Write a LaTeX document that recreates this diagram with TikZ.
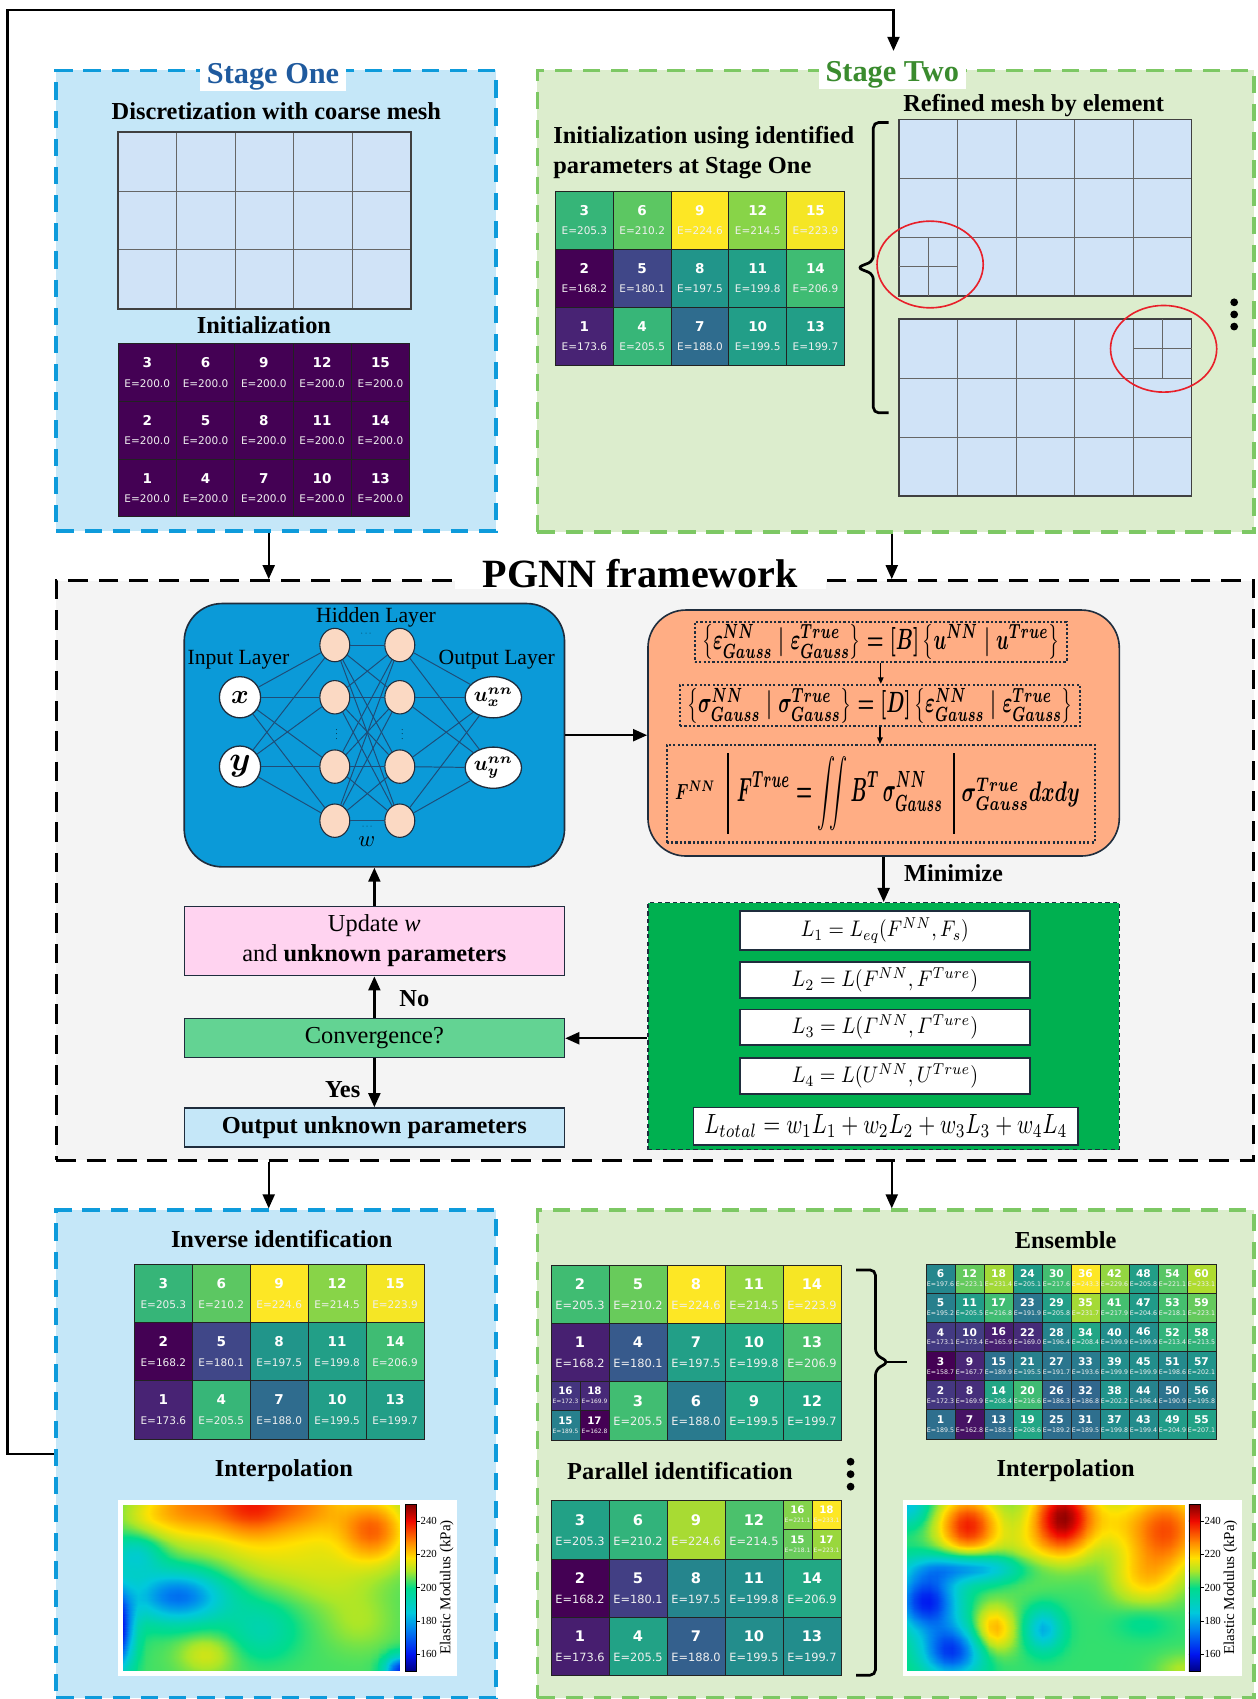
\documentclass[tikz,border=0pt]{standalone}
\usepackage{amsmath,bm}
\usepackage{graphicx}
\usepackage{fontspec}
\setmainfont{Liberation Serif}
\newfontfamily\djv{DejaVu Sans}
\usepackage{pgfplots}
\pgfplotsset{compat=1.18}
\usetikzlibrary{arrows.meta,shapes.geometric,calc}

\definecolor{s1fill}{HTML}{C5E7F8}
\definecolor{s1line}{HTML}{0E9BDB}
\definecolor{s1title}{HTML}{1F5A9E}
\definecolor{s2fill}{HTML}{DCEDCD}
\definecolor{s2line}{HTML}{7DC864}
\definecolor{s2title}{HTML}{3A8B2E}
\definecolor{meshfill}{HTML}{D0E3F7}
\definecolor{pgnnfill}{HTML}{F4F4F4}
\definecolor{nnblue}{HTML}{0B9AD8}
\definecolor{peach}{HTML}{FBD9C3}
\definecolor{edgeblue}{HTML}{1E4D78}
\definecolor{salmon}{HTML}{FFAD84}
\definecolor{lossgreen}{HTML}{00B050}
\definecolor{pinkbox}{HTML}{FFD3F0}
\definecolor{convgreen}{HTML}{63D393}
\definecolor{darkline}{HTML}{1F2D3D}
\definecolor{cellline}{HTML}{222222}
\definecolor{circred}{HTML}{E8202A}
\definecolor{vir0}{HTML}{440154}
\definecolor{vir1}{HTML}{482475}
\definecolor{vir2}{HTML}{414487}
\definecolor{vir3}{HTML}{355F8D}
\definecolor{vir4}{HTML}{2A788E}
\definecolor{vir5}{HTML}{21918C}
\definecolor{vir6}{HTML}{22A884}
\definecolor{vir7}{HTML}{44BF70}
\definecolor{vir8}{HTML}{7AD151}
\definecolor{vir9}{HTML}{BDDF26}
\definecolor{vir10}{HTML}{FDE725}
\definecolor{cmA}{RGB}{0,0,130}
\definecolor{cmB}{RGB}{0,20,240}
\definecolor{cmC}{RGB}{0,130,240}
\definecolor{cmD}{RGB}{0,200,220}
\definecolor{cmE}{RGB}{0,220,140}
\definecolor{cmF}{RGB}{170,230,40}
\definecolor{cmG}{RGB}{255,225,0}
\definecolor{cmH}{RGB}{255,130,0}
\definecolor{cmI}{RGB}{240,10,0}
\definecolor{cmJ}{RGB}{130,0,0}
\pgfplotsset{colormap={myjet}{rgb255(0cm)=(0,0,130) rgb255(1cm)=(0,20,240) rgb255(2.5cm)=(0,130,240) rgb255(3.5cm)=(0,200,220) rgb255(5cm)=(0,220,140) rgb255(6cm)=(170,230,40) rgb255(6.8cm)=(255,225,0) rgb255(7.8cm)=(255,130,0) rgb255(9cm)=(240,10,0) rgb255(10cm)=(130,0,0)}}

\newcommand\fsz[1]{\fontsize{#1}{#1}\selectfont}
\newcommand\vircol[1]{%
  \pgfmathsetmacro\virT{max(0,min(0.9999,#1))}%
  \pgfmathtruncatemacro\virI{floor(\virT*10)}%
  \pgfmathsetmacro\virF{(\virT*10-\virI)*100}%
  \pgfmathtruncatemacro\virJ{\virI+1}%
  \edef\virExpr{vir\virJ!\virF!vir\virI}%
  \colorlet{cellc}{\virExpr}%
}
\newcommand\gridcell[6]{%
  \pgfmathsetmacro\tval{(#6-\gmin)/(\gmax-\gmin)}%
  \vircol{\tval}%
  \filldraw[fill=cellc, draw=cellline, line width=0.7pt] (#1,#2) rectangle ++(#3,#4);
  \node[numtxt] (\gname n#5) at ({#1+0.5*(#3)},{#2+0.33*(#4)}) {#5};
  \node[etxt] (\gname e#5) at ({#1+0.5*(#3)},{#2+0.69*(#4)}) {E=#6};
}
\newcommand\stdgrid[4]{%
  \foreach \c/\r/\n/\e in {0/0/3/205.3,1/0/6/210.2,2/0/9/224.6,3/0/12/214.5,4/0/15/223.9,
    0/1/2/168.2,1/1/5/180.1,2/1/8/197.5,3/1/11/199.8,4/1/14/206.9,
    0/2/1/173.6,1/2/4/205.5,2/2/7/188.0,3/2/10/199.5,4/2/13/199.7}
    {\gridcell{#1+\c*#3}{#2+\r*#4}{#3}{#4}{\n}{\e}}%
}
\newcommand\coarsemesh[2]{%
  \fill[meshfill] (#1,#2) rectangle ++(270,163);
  \foreach \i in {1,2,3,4} \draw[meshline] ({#1+\i*54},#2) -- ++(0,163);
  \foreach \j in {1,2} \draw[meshline] (#1,{#2+\j*54.33}) -- ++(270,0);
  \draw[line width=1.6pt, draw=black!75] (#1,#2) rectangle ++(270,163);
}
\newcommand\cbar[2]{%
  \pgfmathsetmacro\cbr{#1+10.7}%
  \foreach \pa/\pb/\ca/\cb in {0/1/cmA/cmB,1/2.5/cmB/cmC,2.5/3.5/cmC/cmD,3.5/5/cmD/cmE,5/6/cmE/cmF,6/6.8/cmF/cmG,6.8/7.8/cmG/cmH,7.8/9/cmH/cmI,9/10/cmI/cmJ}
    \shade[bottom color=\ca, top color=\cb] (#1,{1542.1-\pa*15.38+0.4}) rectangle (\cbr,{1542.1-\pb*15.38});
  \draw[line width=0.5pt] (#1,1388.3) rectangle (\cbr,1542.1);
  \foreach \v in {160,180,200,220,240} {
    \pgfmathsetmacro\ty{1542.1-(\v-150)*1.538}
    \draw[line width=0.5pt] (\cbr,\ty) -- ++(3,0);
    \node[font=\fsz{10}, anchor=west, inner sep=0pt] (#2t\v) at (\cbr+3.5,\ty) {\v};
  }
}

\tikzset{
  frame/.style={rectangle, line width=3.5pt, dash pattern=on 16pt off 10pt, inner sep=0pt},
  head/.style={font=\bfseries\fsz{22.5}, inner sep=0pt},
  numtxt/.style={text=white, font=\djv\bfseries\fsz{\numsz}, inner sep=0pt},
  etxt/.style={text=white!88!gray, font=\djv\fsz{\esz}, inner sep=0pt},
  meshline/.style={line width=0.8pt, draw=black!60},
  arr/.style={-{Triangle[length=13pt,width=11pt]}, line width=2.2pt},
  smallarr/.style={-{Triangle[length=6pt,width=5pt]}, line width=1.2pt},
  box/.style={draw=darkline, line width=1.3pt, inner sep=0pt},
  lbox/.style={draw=darkline, fill=white, line width=1.5pt, inner sep=0pt},
  dotbox/.style={draw=darkline, line width=2pt, dash pattern=on 2pt off 2pt, inner sep=0pt},
  inode/.style={circle, draw=darkline, fill=white, line width=1.2pt, minimum size=38pt, inner sep=0pt},
  hnode/.style={ellipse, draw=darkline, fill=peach, line width=1pt, minimum width=27.6pt, minimum height=30.8pt, inner sep=0pt},
  onode/.style={ellipse, draw=darkline, fill=white, line width=1.2pt, minimum width=52pt, minimum height=38pt, inner sep=0pt},
  nnedge/.style={draw=edgeblue, line width=0.9pt},
  brace/.style={line width=2.5pt, rounded corners=5pt},
  lay/.style={font=\fsz{20}, inner sep=0pt},
  dots/.style={inner sep=0pt, font=\fsz{7}},
}

\begin{document}
\begin{tikzpicture}
\begin{scope}[x=1pt,y=-1pt]
\useasboundingbox (0,0) rectangle (1161,1568);
\fill[white] (0,0) rectangle (1161,1568);

% ---------- frames ----------
\node[frame, draw=s1line, fill=s1fill, minimum width=406pt, minimum height=425pt] (stage1) at (255,277.5) {};
\node[frame, draw=s2line, fill=s2fill, minimum width=661pt, minimum height=426pt] (stage2) at (826.5,278) {};
\node[rectangle, draw=black, fill=pgnnfill, line width=3pt, dash pattern=on 18pt off 10pt, inner sep=0pt, minimum width=1105pt, minimum height=535pt] (pgnn) at (604.5,803.5) {};
\node[frame, draw=s1line, fill=s1fill, minimum width=406pt, minimum height=450pt] (inv) at (255,1342) {};
\node[frame, draw=s2line, fill=s2fill, minimum width=661pt, minimum height=450pt] (par) at (826.5,1342) {};

\node[fill=white, text=s1title, font=\bfseries\fsz{28}, inner xsep=6pt, inner ysep=1pt] (t1) at (252,71) {Stage One};
\node[fill=white, text=s2title, font=\bfseries\fsz{28}, inner xsep=6pt, inner ysep=1pt] (t2) at (823.5,69) {Stage Two};
\node[fill=white, font=\bfseries\fsz{37}, inner xsep=26pt, inner ysep=1pt] (t3) at (591,529) {PGNN framework};

% ---------- Stage One ----------
\node[head] (disc) at (255,103) {Discretization with coarse mesh};
\coarsemesh{109}{122}
\node[head] (initlbl) at (243.6,300.3) {Initialization};
\def\gname{gi}\def\gmin{200}\def\gmax{201}\def\numsz{12.5}\def\esz{9.7}
\foreach \c/\r/\n in {0/0/3,1/0/6,2/0/9,3/0/12,4/0/15,0/1/2,1/1/5,2/1/8,3/1/11,4/1/14,0/2/1,1/2/4,2/2/7,3/2/10,4/2/13}
  {\gridcell{109+\c*53.8}{317+\r*53.33}{53.8}{53.33}{\n}{200.0}}

% ---------- Stage Two ----------
\node[head, align=left, anchor=west, font=\bfseries\fontsize{22.5}{28}\selectfont] (initid) at (510.5,141) {Initialization using identified\\parameters at Stage One};
\node[head] (refl) at (954,97) {Refined mesh by element};
\def\gname{gs}\def\gmin{168.2}\def\gmax{224.6}\def\numsz{12.5}\def\esz{9.7}
\stdgrid{512.7}{176.4}{53.3}{53.47}
\coarsemesh{829.7}{110.3}
\draw[meshline] (856.7,218.6) -- (856.7,273.3);
\draw[meshline] (829.7,246) -- (883.7,246);
\coarsemesh{829.7}{294.6}
\draw[meshline] (1072.7,294.6) -- (1072.7,349);
\draw[meshline] (1045.7,321.8) -- (1099.7,321.8);
\draw[circred, line width=1.5pt] (858.4,244.1) ellipse [x radius=49, y radius=40];
\draw[circred, line width=1.5pt] (1073.9,321.9) ellipse [x radius=49, y radius=40];
\draw[brace] (820,113) -- (806,113) -- (806,241) -- (791,247) -- (806,253) -- (806,381) -- (820,381);
\foreach \yy/\k in {279/1,290.2/2,301.4/3} \fill (1139,\yy) circle (3.6);

% ---------- arrows between frames ----------
\draw[arr] ([xshift=-7pt]stage1.south) -- ([xshift=-7pt]stage1.south |- pgnn.north);
\draw[arr] ([xshift=-3.5pt]stage2.south) -- ([xshift=-3.5pt]stage2.south |- pgnn.north);
\draw[arr] ([xshift=-7pt]inv.north |- pgnn.south) -- ([xshift=-7pt]inv.north);
\draw[arr] ([xshift=-3.5pt]par.north |- pgnn.south) -- ([xshift=-3.5pt]par.north);
\coordinate (fbA) at (7,1342);
\coordinate (fbB) at (7,9);
\coordinate (fbC) at (824.6,9);
\coordinate (fbD) at (824.6,47);
\draw[arr] (inv.west) -- (fbA) -- (fbB) -- (fbC) -- (fbD);

% ---------- NN ----------
\node[draw=darkline, fill=nnblue, rounded corners=35pt, line width=1.5pt, minimum width=351pt, minimum height=243pt, inner sep=0pt] (nnbox) at (345.5,678.5) {};
\node[inode] (nx) at (221.5,643.5) {\resizebox{!}{11pt}{$\bm{x}$}};
\node[inode] (ny) at (221.5,707.5) {\resizebox{!}{14pt}{$\bm{y}$}};
\foreach \i/\yy in {1/595.3,2/643.5,3/707.5,4/757.4} {
  \node[hnode] (h1\i) at (309,\yy) {};
  \node[hnode] (h2\i) at (369,\yy) {};
}
\node[onode] (ox) at (455.3,643.5) {\resizebox{36pt}{!}{$\bm{u^{nn}_x}$}};
\node[onode] (oy) at (455.3,708.5) {\resizebox{36pt}{!}{$\bm{u^{nn}_y}$}};
\foreach \a in {nx,ny} \foreach \j in {1,2,3,4} \draw[nnedge] (\a) -- (h1\j);
\foreach \i in {1,2,3,4} \foreach \j in {1,2,3,4} \draw[nnedge] (h1\i) -- (h2\j);
\foreach \i in {1,2,3,4} \foreach \b in {ox,oy} \draw[nnedge] (h2\i) -- (\b);
\node[lay] (linput) at (220,609) {Input Layer};
\node[lay] (lhidden) at (347,569.5) {Hidden Layer};
\node[lay] (loutput) at (458.4,609) {Output Layer};
\node[inner sep=0pt] (lw) at (338.4,776.7) {\resizebox{!}{9pt}{$w$}};
\node[dots] (dt1) at (338.5,585) {$\cdots$};
\node[dots] (dt2) at (339.5,763) {$\cdots$};
\node[dots] (dt3) at (310.7,675) {$\vdots$};
\node[dots] (dt4) at (371.3,675) {$\vdots$};

% ---------- formula box ----------
\node[draw=darkline, fill=salmon, rounded corners=35pt, line width=1.5pt, minimum width=435pt, minimum height=227pt, inner sep=0pt] (fbox) at (815.5,676.5) {};
\node[dotbox, minimum width=343pt, minimum height=37pt] (fb1) at (812.9,592.2) {};
\node[inner sep=0pt] (fx1) at (812.9,592.2)
  {\resizebox{330pt}{23pt}{\boldmath$\left\{\varepsilon^{NN}_{Gauss}\mid\varepsilon^{True}_{Gauss}\right\}=[B]\left\{u^{NN}\mid u^{True}\right\}$}};
\node[dotbox, minimum width=369pt, minimum height=38pt] (fb2) at (812.1,651.1) {};
\node[inner sep=0pt] (fx2) at (812.1,651.1)
  {\resizebox{356pt}{23pt}{\boldmath$\left\{\sigma^{NN}_{Gauss}\mid\sigma^{True}_{Gauss}\right\}=[D]\left\{\varepsilon^{NN}_{Gauss}\mid\varepsilon^{True}_{Gauss}\right\}$}};
\node[dotbox, minimum width=395pt, minimum height=90pt] (fb3) at (812.9,732.6) {};
\draw[smallarr] (fb1.south) -- (fb1.south |- fb2.north);
\draw[smallarr] (fb2.south) -- (fb2.south |- fb3.north);
\draw[line width=2pt] (671.5,695) -- (671.5,770);
\draw[line width=2pt] (880.4,695) -- (880.4,770);
\node[inner sep=0pt] (fF) at (641.5,729) {\resizebox{37pt}{17pt}{\boldmath$F^{NN}$}};
\node[inner sep=0pt] (fM) at (775,732) {\resizebox{190pt}{42pt}{\boldmath$\displaystyle F^{True}=\iint B^{T}\,\sigma^{NN}_{Gauss}$}};
\node[inner sep=0pt] (fR) at (942,733) {\resizebox{109pt}{22pt}{\boldmath$\sigma^{True}_{Gauss}dxdy$}};

% ---------- loss box ----------
\node[draw=darkline, fill=lossgreen, dash pattern=on 4pt off 3pt, line width=1pt, minimum width=435pt, minimum height=228pt, inner sep=0pt] (loss) at (815.5,947) {};
\node[lbox, minimum width=267.6pt, minimum height=36pt] (l1) at (816.7,858.7) {\resizebox{155pt}{17.5pt}{$L_1=L_{eq}(F^{NN},F_s)$}};
\node[lbox, minimum width=267.6pt, minimum height=33.5pt] (l2) at (816.7,904.5) {\resizebox{172pt}{17.5pt}{$L_2=L(F^{NN},F^{Ture})$}};
\node[lbox, minimum width=267.6pt, minimum height=33.2pt] (l3) at (816.7,948.1) {\resizebox{172pt}{17.5pt}{$L_3=L(\mathnormal{\Gamma}^{NN},\mathnormal{\Gamma}^{Ture})$}};
\node[lbox, minimum width=267.6pt, minimum height=33pt] (l4) at (816.7,993.2) {\resizebox{172pt}{17.5pt}{$L_4=L(U^{NN},U^{True})$}};
\node[lbox, minimum width=355.3pt, minimum height=34.5pt] (lt) at (817.5,1039.5) {\resizebox{335pt}{17.5pt}{$L_{total}=w_1L_1+w_2L_2+w_3L_3+w_4L_4$}};

% ---------- loop boxes ----------
\node[box, fill=pinkbox, minimum width=351pt, minimum height=64pt, align=center, font=\fontsize{22.5}{28}\selectfont] (upd) at (345.5,868.4) {Update \textit{w}\\and \textbf{unknown parameters}};
\node[box, fill=convgreen, minimum width=351pt, minimum height=36pt, font=\fsz{22.5}] (conv) at (345.5,958.2) {Convergence?};
\node[box, fill=s1fill, minimum width=351pt, minimum height=36pt, font=\bfseries\fsz{22.5}] (outp) at (345.5,1040.5) {Output unknown parameters};

\draw[arr] (nnbox.east) -- (nnbox.east -| fbox.west);
\draw[arr] (fbox.south) -- (loss.north);
\draw[arr] (conv.east -| loss.west) -- (conv.east);
\draw[arr] (conv.north) -- (upd.south);
\draw[arr] (upd.north) -- (nnbox.south);
\draw[arr] (conv.south) -- (outp.north);
\node[head] (lmin) at (880,806) {Minimize};
\node[head] (lno) at (382.4,921.3) {No};
\node[head] (lyes) at (316.2,1005.3) {Yes};

% ---------- bottom left ----------
\node[head] (invt) at (260,1143.7) {Inverse identification};
\def\gname{gv}\def\gmin{168.2}\def\gmax{224.6}\def\numsz{12.5}\def\esz{9.7}
\stdgrid{124}{1166.5}{53.46}{53.83}
\node[head] (interpL) at (262,1357.2) {Interpolation};
\node[fill=white, inner sep=0pt, minimum width=312.8pt, minimum height=162.1pt] (hmL) at (265.6,1465.35) {};
\cbar{373.8}{cl}
\node[rotate=90, font=\fsz{13.9}, inner sep=0pt] (cblL) at (412.2,1465) {Elastic Modulus (kPa)};

% ---------- bottom right ----------
\def\gname{ga}\def\gmin{162.8}\def\gmax{224.6}\def\numsz{13.5}\def\esz{10.5}
\foreach \c/\r/\n/\e in {0/0/2/205.3,1/0/5/210.2,2/0/8/224.6,3/0/11/214.5,4/0/14/223.9,
  0/1/1/168.2,1/1/4/180.1,2/1/7/197.5,3/1/10/199.8,4/1/13/206.9,
  1/2/3/205.5,2/2/6/188.0,3/2/9/199.5,4/2/12/199.7}
  {\gridcell{508.5+\c*53.52}{1167.4+\r*53.83}{53.52}{53.83}{\n}{\e}}
\def\numsz{9.5}\def\esz{5.5}
\foreach \c/\r/\n/\e in {0/0/16/172.3,1/0/18/169.9,0/1/15/189.5,1/1/17/162.8}
  {\gridcell{508.5+\c*26.76}{1275.06+\r*26.915}{26.76}{26.915}{\n}{\e}}

\node[head] (part) at (627.5,1357.2) {Parallel identification};
\foreach \yy/\k in {1349/1,1360.5/2,1372/3} \fill (785,\yy) circle (3.6);
\def\gname{gb}\def\gmin{168.2}\def\gmax{233.1}\def\numsz{13.5}\def\esz{10.5}
\foreach \c/\r/\n/\e in {0/0/3/205.3,1/0/6/210.2,2/0/9/224.6,3/0/12/214.5,
  0/1/2/168.2,1/1/5/180.1,2/1/8/197.5,3/1/11/199.8,4/1/14/206.9,
  0/2/1/173.6,1/2/4/205.5,2/2/7/188.0,3/2/10/199.5,4/2/13/199.7}
  {\gridcell{508.5+\c*53.52}{1384.9+\r*53.83}{53.52}{53.83}{\n}{\e}}
\def\numsz{9.5}\def\esz{5.5}
\foreach \c/\r/\n/\e in {0/0/16/221.1,1/0/18/233.1,0/1/15/218.1,1/1/17/223.1}
  {\gridcell{722.58+\c*26.76}{1384.9+\r*26.915}{26.76}{26.915}{\n}{\e}}

\draw[brace] (790,1172) -- (808,1172) -- (808,1250) -- (820,1257) -- (808,1264) -- (808,1546) -- (790,1546);
\draw[line width=2.5pt] (819,1257) -- (837,1257);

\node[head] (enst) at (983.5,1144.3) {Ensemble};
\def\gname{ge}\def\gmin{158.7}\def\gmax{243.3}\def\numsz{9.8}\def\esz{5.8}
\foreach \n/\e [count=\k from 0] in {1/189.5,2/172.3,3/158.7,4/173.1,5/195.2,6/197.6,
  7/162.8,8/169.9,9/167.7,10/173.4,11/205.5,12/223.1,
  13/188.5,14/208.4,15/189.9,16/165.9,17/216.8,18/231.4,
  19/208.6,20/216.6,21/195.5,22/169.0,23/191.9,24/205.1,
  25/189.2,26/186.3,27/191.7,28/196.4,29/205.8,30/217.6,
  31/189.5,32/186.8,33/193.6,34/208.4,35/231.7,36/243.3,
  37/199.8,38/202.2,39/199.9,40/199.9,41/217.9,42/229.6,
  43/199.4,44/196.4,45/199.9,46/199.9,47/204.6,48/205.8,
  49/204.9,50/190.9,51/198.6,52/213.4,53/218.1,54/221.1,
  55/207.1,56/195.8,57/202.1,58/213.5,59/223.1,60/233.1}
  {\pgfmathtruncatemacro\cc{floor(\k/6)}%
   \pgfmathtruncatemacro\rr{5-mod(\k,6)}%
   \gridcell{854.6+\cc*26.76}{1166.8+\rr*26.87}{26.76}{26.87}{\n}{\e}}

\node[head] (interpR) at (983.5,1357.2) {Interpolation};
\node[fill=white, inner sep=0pt, minimum width=312.9pt, minimum height=162.1pt] (hmR) at (989.45,1465.35) {};
\cbar{1097.3}{cr}
\node[rotate=90, font=\fsz{13.9}, inner sep=0pt] (cblR) at (1135.7,1465) {Elastic Modulus (kPa)};
\end{scope}

% ---------- heat maps ----------
\begin{axis}[at={(112.9pt,-1542.1pt)}, anchor=south west, scale only axis,
  width=256.9pt, height=153.8pt, hide axis, view={0}{90},
  xmin=0, xmax=1, ymin=0, ymax=1, enlargelimits=false,
  colormap name=myjet, point meta min=150, point meta max=250]
\addplot3[surf, shader=interp, domain=0:1, y domain=0:1, samples=36]
  {204
   + 32*exp(-((x-0.46)^2/0.025+(y-1)^2/0.05))
   + 20*exp(-((x-0.22)^2/0.02+(y-1)^2/0.05))
   + 18*exp(-((x-0.68)^2/0.02+(y-1)^2/0.05))
   + 26*exp(-((x-0.9)^2/0.015+(y-0.85)^2/0.04))
   + 8*exp(-((x-0.6)^2/0.08+(y-0.65)^2/0.03))
   + 6*exp(-((x-0.08)^2/0.01+(y-0.92)^2/0.015))
   - 32*exp(-((x-0.2)^2/0.03+(y-0.45)^2/0.025))
   - 50*exp(-((x+0.02)^2/0.003+(y-0.25)^2/0.06))
   - 16*exp(-((x-0.05)^2/0.008+(y-0.7)^2/0.015))
   + 10*exp(-((x-0.3)^2/0.01+(y-0.1)^2/0.015))
   - 10*exp(-((x-0.5)^2/0.015+(y-0.25)^2/0.03))
   + 6*exp(-((x-0.85)^2/0.015+(y-0.3)^2/0.03))
   + 4*exp(-((x-0.75)^2/0.02+(y-0.5)^2/0.02))
   - 44*exp(-((x-1)^2/0.003+y^2/0.008))};
\end{axis}
\begin{axis}[at={(836.7pt,-1542.1pt)}, anchor=south west, scale only axis,
  width=256.9pt, height=153.8pt, hide axis, view={0}{90},
  xmin=0, xmax=1, ymin=0, ymax=1, enlargelimits=false,
  colormap name=myjet, point meta min=150, point meta max=250]
\addplot3[surf, shader=interp, domain=0:1, y domain=0:1, samples=38]
  {203
   + 35*exp(-((x-0.22)^2/0.012+(y-0.87)^2/0.035))
   + 45*exp(-((x-0.56)^2/0.012+(y-0.92)^2/0.05))
   + 30*exp(-((x-0.93)^2/0.02+(y-0.85)^2/0.06))
   + 14*exp(-((x-0.85)^2/0.015+(y-0.55)^2/0.03))
   + 8*exp(-((x-0.42)^2/0.01+(y-0.7)^2/0.04))
   + 8*exp(-((x-0.74)^2/0.01+(y-0.9)^2/0.03))
   - 28*exp(-((x-0.22)^2/0.04+(y-0.62)^2/0.008))
   - 42*exp(-((x-0.07)^2/0.012+(y-0.42)^2/0.03))
   - 38*exp(-((x-0.16)^2/0.012+(y-0.12)^2/0.025))
   - 20*exp(-(x^2/0.006+(y-1)^2/0.015))
   + 22*exp(-((x-0.31)^2/0.006+(y-0.25)^2/0.02))
   - 22*exp(-((x-0.49)^2/0.004+(y-0.25)^2/0.015))
   - 5*exp(-((x-0.85)^2/0.01+(y-0.3)^2/0.01))
   + 8*exp(-((x-1)^2/0.01+y^2/0.01))};
\end{axis}
\end{tikzpicture}
\end{document}
